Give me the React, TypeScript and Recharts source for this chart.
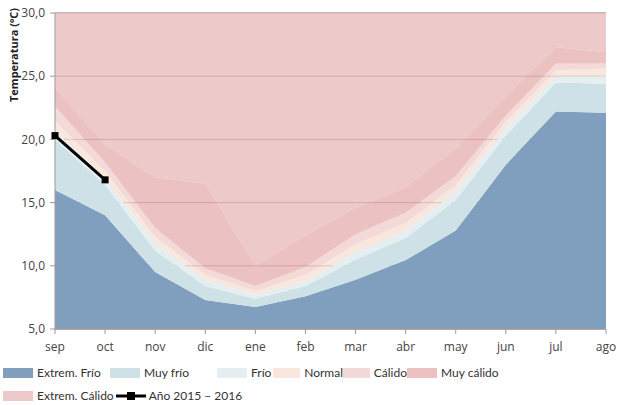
import { ComposedChart, Area, Line, XAxis, YAxis, CartesianGrid } from "recharts";

const months = ["sep", "oct", "nov", "dic", "ene", "feb", "mar", "abr", "may", "jun", "jul", "ago"];

// techo de cada banda (ºC)
const extremFrio = [16.0, 14.0, 9.5, 7.3, 6.75, 7.6, 8.9, 10.45, 12.8, 18.0, 22.2, 22.1];
const muyFrio = [20.0, 16.4, 11.2, 8.4, 7.4, 8.4, 10.5, 12.2, 15.2, 20.3, 24.5, 24.4];
const frio = [20.7, 16.9, 11.8, 8.9, 7.7, 8.8, 11.1, 12.8, 15.9, 20.9, 25.0, 25.0];
const normal = [21.5, 17.5, 12.3, 9.3, 8.0, 9.3, 11.7, 13.4, 16.4, 21.4, 25.5, 25.6];
const calido = [22.6, 18.2, 13.0, 9.8, 8.4, 9.9, 12.5, 14.2, 17.1, 21.9, 26.0, 26.0];
const muyCalido = [24.1, 19.6, 17.0, 16.5, 10.0, 12.4, 14.6, 16.2, 19.3, 23.4, 27.3, 26.9];
const anio: (number | null)[] = [20.3, 16.8, null, null, null, null, null, null, null, null, null, null];

const yTicks = [5, 10, 15, 20, 25, 30];

const bands = [
  { key: "ef", name: "Extrem. Frío", fill: "#809fbf", opacity: 1 },
  { key: "mf", name: "Muy frío", fill: "#cde1e6", opacity: 1 },
  { key: "f", name: "Frío", fill: "#e5eef0", opacity: 1 },
  { key: "n", name: "Normal", fill: "#f8e0d3", opacity: 0.8 },
  { key: "c", name: "Cálido", fill: "#f0cfce", opacity: 0.8 },
  { key: "mc", name: "Muy cálido", fill: "#e7b2b3", opacity: 0.8 },
  { key: "ec", name: "Extrem. Cálido", fill: "#eabbbb", opacity: 0.8 },
];

const data = months.map((m, i) => ({
  month: m,
  ef: [5, extremFrio[i]],
  mf: [extremFrio[i], muyFrio[i]],
  f: [muyFrio[i], frio[i]],
  n: [frio[i], normal[i]],
  c: [normal[i], calido[i]],
  mc: [calido[i], muyCalido[i]],
  ec: [muyCalido[i], 30],
  anio: anio[i],
}));

const font = "'Open Sans', 'Liberation Sans', sans-serif";
const legendFont = "Lato, 'Open Sans', sans-serif";

function SquareDot(props: any) {
  const { cx, cy, index } = props;
  if (cy == null || cx == null) return <g key={`d-${index}`} />;
  return <rect key={`d-${index}`} x={cx - 3.5} y={cy - 3.5} width={7} height={7} fill="#000" />;
}

function Swatch({ color, opacity }: { color: string; opacity: number }) {
  return (
    <span
      style={{
        display: "inline-block",
        width: 30,
        height: 10,
        background: color,
        opacity: opacity,
        marginRight: 4,
      }}
    />
  );
}

export default function App() {
  const legendRow1 = [
    { b: bands[0], w: 107 },
    { b: bands[1], w: 107 },
    { b: bands[2], w: 56 },
    { b: bands[3], w: 70 },
    { b: bands[4], w: 64 },
    { b: bands[5], w: 100 },
  ];

  return (
    <div style={{ position: "relative", width: 629, height: 405, fontFamily: font, background: "#fff" }}>
      <style>{`body{margin:0}`}</style>
      <ComposedChart width={629} height={405} data={data} margin={{ top: 13, right: 23, left: 5, bottom: 51 }}>
        <CartesianGrid vertical={false} stroke="#8c6c6c" strokeWidth={1} />
        {bands.map((b) => (
          <Area
            key={b.key}
            dataKey={b.key}
            name={b.name}
            type="linear"
            stroke="none"
            fill={b.fill}
            fillOpacity={b.opacity}
            isAnimationActive={false}
          />
        ))}
        <Line
          dataKey="anio"
          name="Año 2015 – 2016"
          stroke="#000"
          strokeWidth={3}
          dot={SquareDot}
          activeDot={false}
          isAnimationActive={false}
        />
        <XAxis
          dataKey="month"
          stroke="#9a9a9a"
          tick={{ fill: "#444", fontSize: 12, fontFamily: font }}
          tickSize={5}
          tickMargin={8}
          height={25}
        />
        <YAxis
          domain={[5, 30]}
          ticks={yTicks}
          type="number"
          width={50}
          stroke="#9a9a9a"
          tick={{ fill: "#444", fontSize: 12, fontFamily: font }}
          tickSize={5}
          tickMargin={5}
          tickFormatter={(v: number) => v.toFixed(1).replace(".", ",")}
        />
      </ComposedChart>

      <div
        style={{
          position: "absolute",
          left: -46,
          top: 48,
          width: 120,
          textAlign: "center",
          transform: "rotate(-90deg)",
          fontSize: 11,
          fontWeight: "bold",
          color: "#222",
          lineHeight: "14px",
        }}
      >
        Temperatura (ºC)
      </div>

      <div
        style={{
          position: "absolute",
          left: 3,
          top: 365,
          fontSize: 12,
          fontFamily: legendFont,
          color: "#333",
          lineHeight: "16px",
        }}
      >
        <div style={{ display: "flex", alignItems: "center", height: 16 }}>
          {legendRow1.map(({ b, w }) => (
            <div key={b.key} style={{ width: w, display: "flex", alignItems: "center", whiteSpace: "nowrap" }}>
              <Swatch color={b.fill} opacity={b.opacity} />
              <span>{b.name}</span>
            </div>
          ))}
        </div>
        <div style={{ display: "flex", alignItems: "center", height: 16, marginTop: 7 }}>
          <div style={{ display: "flex", alignItems: "center", whiteSpace: "nowrap" }}>
            <Swatch color={bands[6].fill} opacity={bands[6].opacity} />
            <span>{bands[6].name}</span>
          </div>
          <svg width={30} height={12} style={{ marginLeft: 2, marginRight: 3 }}>
            <line x1={0} y1={6} x2={30} y2={6} stroke="#000" strokeWidth={3} />
            <rect x={11} y={2} width={8} height={8} fill="#000" />
          </svg>
          <span style={{ whiteSpace: "nowrap" }}>Año 2015 – 2016</span>
        </div>
      </div>
    </div>
  );
}
